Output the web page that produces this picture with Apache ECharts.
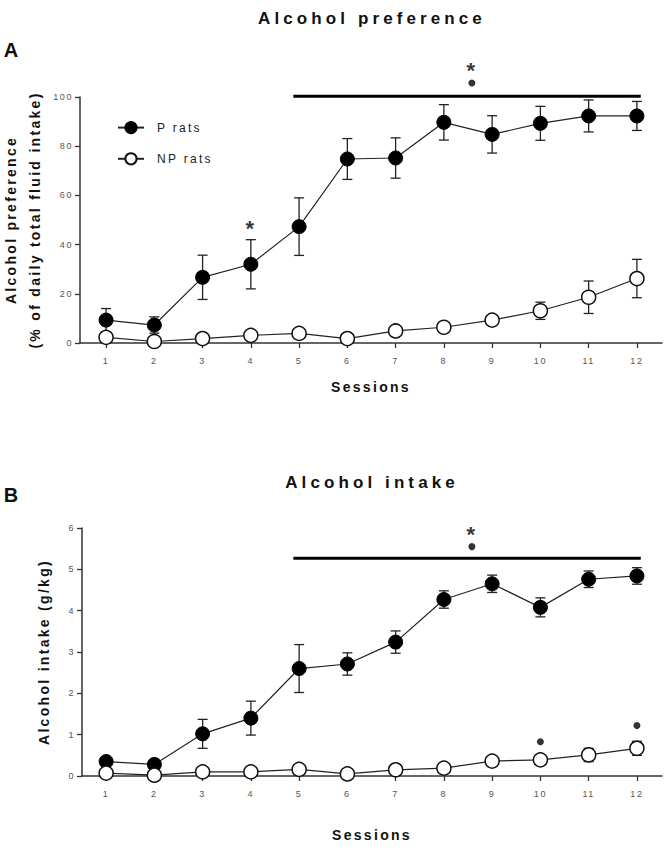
<!DOCTYPE html>
<html>
<head>
<meta charset="utf-8">
<script src="https://cdn.jsdelivr.net/npm/echarts@6/dist/echarts.min.js"></script>
<style>
	html, body { margin: 0; padding: 0; background: #fff; }
	#chart { width: 665px; height: 863px; }
	/* the figure uses widely spaced lettering */
	#chart text { letter-spacing: 2.3px; }
	#chart text[style*="17px"] { letter-spacing: 4.1px; }
	#chart text[style*="9px"] { letter-spacing: 1.6px; }
</style>
</head>
<body>
<div id="chart"></div>
<script>
	/* data */
	var sessions = [1, 2, 3, 4, 5, 6, 7, 8, 9, 10, 11, 12];

	var prefP = [9.3, 7.3, 26.7, 32, 47.3, 74.8, 75.2, 89.7, 84.8, 89.3, 92.3, 92.3];
	var prefPErr = [4.7, 3.3, 9, 10, 11.7, 8.3, 8.2, 7.2, 7.6, 6.9, 6.5, 5.9];
	var prefNP = [2.3, 0.6, 1.8, 3.1, 3.9, 1.8, 4.9, 6.4, 9.3, 13.1, 18.6, 26.2];
	var prefNPErr = [2, 0.8, 1, 1, 1, 1, 1, 1.2, 1.5, 3.5, 6.6, 7.8];

	var intakeP = [0.35, 0.28, 1.02, 1.40, 2.60, 2.71, 3.24, 4.27, 4.65, 4.08, 4.76, 4.84];
	var intakePErr = [0.08, 0.06, 0.35, 0.41, 0.58, 0.27, 0.27, 0.21, 0.21, 0.23, 0.2, 0.2];
	var intakeNP = [0.07, 0.02, 0.10, 0.10, 0.16, 0.05, 0.15, 0.19, 0.36, 0.39, 0.51, 0.67];
	var intakeNPErr = [0.03, 0.02, 0.04, 0.04, 0.05, 0.03, 0.05, 0.06, 0.08, 0.1, 0.16, 0.17];

	// significance bar (from session, to session) and its level on each panel
	var sigSpan = [4.88, 12.08];
	var prefSigLevel = 100.3;
	var intakeSigLevel = 5.27;
	var prefDots = [[8.58, 105.7]];
	var prefStars = [[8.58, 111.8], [4, 47.7]];
	var intakeDots = [[8.58, 5.55], [10, 0.83], [12, 1.22]];
	var intakeStars = [[8.58, 5.91]];

	var prefTicks = [0, 20, 40, 60, 80, 100];
	var intakeTicks = [0, 1, 2, 3, 4, 5, 6];

	var font = 'Liberation Sans';

	function pairs(xs, ys) {
		return xs.map(function(x, i) { return [x, ys[i]]; });
	}
	function errData(xs, ys, es) {
		return xs.map(function(x, i) { return [x, ys[i] - es[i], ys[i] + es[i]]; });
	}

	function renderErr(params, api) {
		var lo = api.coord([api.value(0), api.value(1)]);
		var hi = api.coord([api.value(0), api.value(2)]);
		var w = 5;
		var st = { stroke: '#222', lineWidth: 1.3 };
		return {
			type: 'group',
			children: [
				{ type: 'line', shape: { x1: hi[0], y1: hi[1], x2: lo[0], y2: lo[1] }, style: st },
				{ type: 'line', shape: { x1: hi[0] - w, y1: hi[1], x2: hi[0] + w, y2: hi[1] }, style: st },
				{ type: 'line', shape: { x1: lo[0] - w, y1: lo[1], x2: lo[0] + w, y2: lo[1] }, style: st }
			]
		};
	}

	function xAxisFor(idx, min, gap) {
		return {
			type: 'value',
			gridIndex: idx,
			min: min,
			max: 12.52,
			name: 'Sessions',
			nameLocation: 'middle',
			nameGap: gap,
			nameTextStyle: { fontFamily: font, fontWeight: 'bold', fontSize: 14, color: '#111' },
			splitLine: { show: false },
			axisLine: { lineStyle: { color: '#333', width: 1.5 } },
			axisTick: { length: 5, customValues: sessions, lineStyle: { color: '#333', width: 1.3 } },
			axisLabel: { customValues: sessions, margin: 13, fontSize: 9, fontFamily: font, color: '#555' }
		};
	}

	function yAxisFor(idx, ticks, name, gap) {
		return {
			type: 'value',
			gridIndex: idx,
			min: ticks[0],
			max: ticks[ticks.length - 1],
			interval: ticks[1] - ticks[0],
			name: name,
			nameLocation: 'middle',
			nameRotate: 90,
			nameGap: gap,
			nameTextStyle: { fontFamily: font, fontWeight: 'bold', fontSize: 14, color: '#111', lineHeight: 24 },
			splitLine: { show: false },
			axisLine: { show: true, lineStyle: { color: '#333', width: 1.5 } },
			axisTick: { show: true, length: 5, lineStyle: { color: '#333', width: 1.3 } },
			axisLabel: { margin: 7, fontSize: 9, fontFamily: font, color: '#555' }
		};
	}

	function groupSeries(idx, name, ys, es, filled) {
		return [{
			type: 'custom',
			xAxisIndex: idx,
			yAxisIndex: idx,
			z: 2,
			silent: true,
			renderItem: renderErr,
			data: errData(sessions, ys, es)
		}, {
			name: name,
			type: 'line',
			xAxisIndex: idx,
			yAxisIndex: idx,
			z: filled ? 3 : 4,
			symbol: 'circle',
			symbolSize: 14,
			showSymbol: true,
			lineStyle: { color: '#222', width: 1.2 },
			itemStyle: filled ? { color: '#000', borderColor: '#000', borderWidth: 1 } : { color: '#fff', borderColor: '#111', borderWidth: 1.5 },
			data: pairs(sessions, ys)
		}];
	}

	function sigSeries(idx, level, dots, stars) {
		return [{
			type: 'line',
			xAxisIndex: idx,
			yAxisIndex: idx,
			symbol: 'none',
			clip: false,
			z: 3,
			lineStyle: { color: '#000', width: 3 },
			data: [[sigSpan[0], level], [sigSpan[1], level]]
		}, {
			type: 'scatter',
			xAxisIndex: idx,
			yAxisIndex: idx,
			clip: false,
			symbolSize: 7,
			itemStyle: { color: '#000' },
			data: dots
		}, {
			type: 'scatter',
			xAxisIndex: idx,
			yAxisIndex: idx,
			clip: false,
			symbolSize: 1,
			itemStyle: { color: 'transparent' },
			label: {
				show: true,
				position: 'inside',
				formatter: '*',
				offset: [0, 3],
				fontSize: 22,
				fontWeight: 'bold',
				fontFamily: font,
				color: '#000'
			},
			data: stars
		}];
	}

	var chart = echarts.init(document.getElementById('chart'), null, { renderer: 'svg' });

	var option = {
		animation: false,
		backgroundColor: '#fff',
		graphic: [
			{ type: 'text', x: 372, y: 18, style: { text: 'Alcohol preference', fontSize: 17, fontWeight: 'bold', fontFamily: font, fill: '#111', textAlign: 'center', textVerticalAlign: 'middle' } },
			{ type: 'text', x: 12, y: 50, style: { text: 'A', fontSize: 20, fontWeight: 'bold', fontFamily: font, fill: '#111', textAlign: 'center', textVerticalAlign: 'middle' } },
			{ type: 'text', x: 372, y: 482, style: { text: 'Alcohol intake', fontSize: 17, fontWeight: 'bold', fontFamily: font, fill: '#111', textAlign: 'center', textVerticalAlign: 'middle' } },
			{ type: 'text', x: 12, y: 495, style: { text: 'B', fontSize: 20, fontWeight: 'bold', fontFamily: font, fill: '#111', textAlign: 'center', textVerticalAlign: 'middle' } }
		],
		legend: {
			orient: 'vertical',
			left: 117,
			top: 121,
			padding: 0,
			itemWidth: 26,
			itemHeight: 14,
			itemGap: 18,
			textStyle: { fontFamily: font, fontSize: 12, color: '#222', padding: [0, 0, 0, 8] },
			data: ['P rats', 'NP rats']
		},
		grid: [
			{ left: 80, right: 3, top: 97, height: 246, outerBoundsMode: 'none' },
			{ left: 82, right: 3, top: 528, height: 248, outerBoundsMode: 'none' }
		],
		xAxis: [xAxisFor(0, 0.46, 37), xAxisFor(1, 0.5, 52)],
		yAxis: [
			yAxisFor(0, prefTicks, 'Alcohol preference\n(% of daily total fluid intake)', 33),
			yAxisFor(1, intakeTicks, 'Alcohol intake (g/kg)', 26)
		],
		series: [].concat(
			groupSeries(0, 'P rats', prefP, prefPErr, true),
			groupSeries(0, 'NP rats', prefNP, prefNPErr, false),
			sigSeries(0, prefSigLevel, prefDots, prefStars),
			groupSeries(1, 'P rats', intakeP, intakePErr, true),
			groupSeries(1, 'NP rats', intakeNP, intakeNPErr, false),
			sigSeries(1, intakeSigLevel, intakeDots, intakeStars)
		)
	};
	chart.setOption(option);
</script>
</body>
</html>
